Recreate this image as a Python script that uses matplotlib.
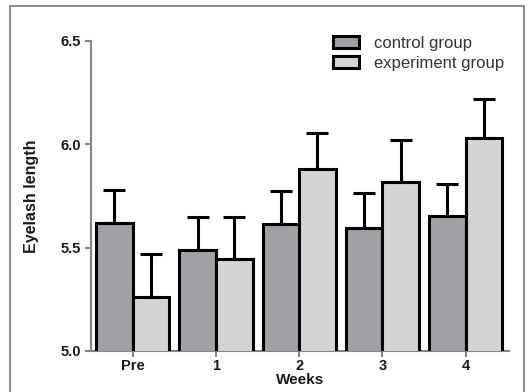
import matplotlib
matplotlib.use("Agg")
import matplotlib.pyplot as plt
import numpy as np
from matplotlib.patches import Rectangle

weeks = ["Pre", "1", "2", "3", "4"]
control_mean = [5.62, 5.49, 5.615, 5.595, 5.655]
control_err = [0.16, 0.16, 0.16, 0.17, 0.155]
experiment_mean = [5.26, 5.445, 5.88, 5.82, 6.03]
experiment_err = [0.21, 0.205, 0.175, 0.20, 0.19]
yticks = [5.0, 5.5, 6.0, 6.5]

plt.rcParams['font.family'] = ['Liberation Sans', 'DejaVu Sans']

fig = plt.figure(figsize=(5.29, 3.92), dpi=100)
ax = fig.add_axes([91/529, 1-351/392, 418/529, 310/392])

x = np.arange(len(weeks))
w = 0.44
err_kw = dict(ecolor="black", elinewidth=2.2, capsize=8, capthick=2.2)
ax.bar(x - w/2, control_mean, w, color="#a1a1a5", edgecolor="black", linewidth=2.2,
       yerr=[np.zeros(len(weeks)), control_err], error_kw=err_kw, label="control group", zorder=3)
ax.bar(x + w/2, experiment_mean, w, color="#d4d4d4", edgecolor="black", linewidth=2.2,
       yerr=[np.zeros(len(weeks)), experiment_err], error_kw=err_kw, label="experiment group", zorder=3)

ax.set_xlim(-0.5, 4.52)
ax.set_ylim(5.0, 6.5)
ax.set_yticks(yticks)
ax.set_yticklabels([f"{t:.1f}" for t in yticks])
ax.set_xticks(x)
ax.set_xticklabels(weeks)
for s in ["top", "right"]:
    ax.spines[s].set_visible(False)
for s in ["left", "bottom"]:
    ax.spines[s].set_color("#858585")
    ax.spines[s].set_linewidth(1.5)
ax.tick_params(axis="both", colors="#858585", length=4, width=1.5, labelcolor="#1a1a1a",
               labelsize=10.5)
ax.tick_params(axis="x", pad=2)
ax.tick_params(axis="y", pad=3)
for lab in ax.get_xticklabels() + ax.get_yticklabels():
    lab.set_fontweight("bold")
ax.set_xlabel("Weeks", fontsize=11, fontweight="bold", color="#1a1a1a", labelpad=0)
ax.set_ylabel("Eyelash length", fontsize=11.5, fontweight="bold", color="#1a1a1a", labelpad=16)

leg = ax.legend(loc="upper right", bbox_to_anchor=(1.025, 1.065), frameon=False, fontsize=12,
                handlelength=1.55, handleheight=0.7, labelspacing=0.3, handletextpad=0.9)
for t in leg.get_texts():
    t.set_color("#333333")

fig.patches.append(Rectangle((9.5/529, -0.05), (524-9.5)/529, 1.05-6/392, transform=fig.transFigure,
                             fill=False, edgecolor="#777777", linewidth=1.2))
fig.savefig("out.png", dpi=100)
